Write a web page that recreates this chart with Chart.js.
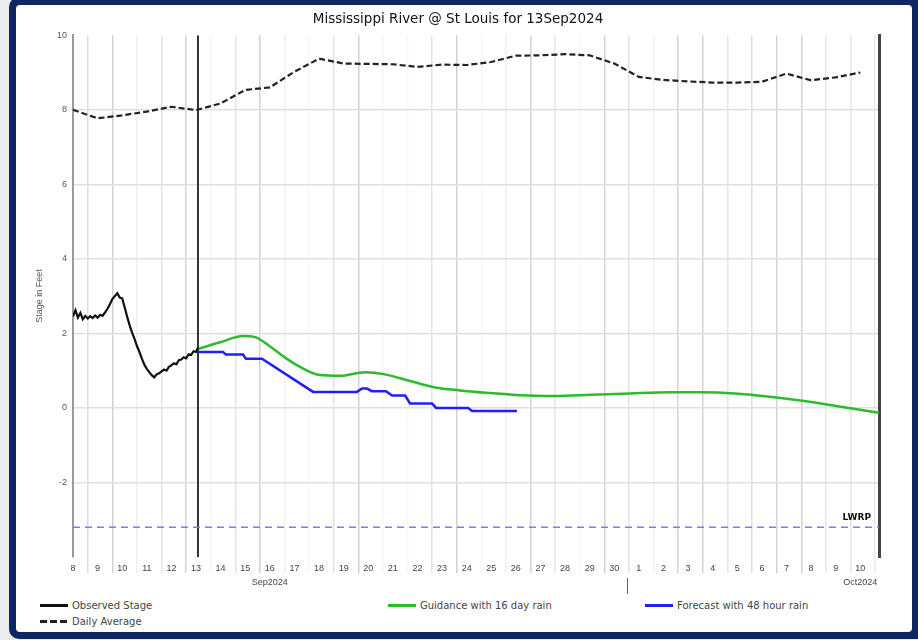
<!DOCTYPE html>
<html>
<head>
<meta charset="utf-8">
<script src="https://cdn.jsdelivr.net/npm/chart.js@4.4.1/dist/chart.umd.min.js"></script>
<style>
  html, body { margin: 0; padding: 0; }
  body { width: 918px; height: 640px; background: #ececec; position: relative; overflow: hidden;
         font-family: "DejaVu Sans", sans-serif; }
  #frame { position: absolute; left: 9px; top: -3px; width: 920px; height: 642px; background: #0e2763; border-radius: 10px; }
  #panel { position: absolute; left: 16px; top: 5px; width: 896px; height: 627px; background: #fff; border-radius: 4px; }
  #c { position: absolute; left: 16px; top: 5px; }
  .lg { position: absolute; display: flex; align-items: center; height: 12px; font-size: 10px; color: #444; }
  .lg .sw { width: 28px; height: 3px; margin-right: 4px; }
</style>
</head>
<body>
<div id="frame"></div>
<div id="panel"></div>
<canvas id="c" width="884" height="590"></canvas>
<div id="legend"></div>
<script>
// x values are days after 8 Sep 2024 00:00
const dayTicks = ['8','9','10','11','12','13','14','15','16','17','18','19','20','21','22','23','24',
                  '25','26','27','28','29','30','1','2','3','4','5','6','7','8','9','10'];
const monthLabels = ['Sep2024', 'Oct2024'];
const monthLabelAt = [8, 32];
const yTicks = [-2, 0, 2, 4, 6, 8, 10];

const obsDays  = [0.00,0.10,0.20,0.30,0.40,0.50,0.60,0.70,0.80,0.90,1.00,1.10,1.20,1.30,1.40,1.50,1.60,1.70,1.80,1.90,
                  2.00,2.10,2.20,2.30,2.40,2.50,2.60,2.70,2.80,2.90,3.00,3.10,3.20,3.30,3.40,3.50,3.60,3.70,3.80,3.90,
                  4.00,4.10,4.20,4.30,4.40,4.50,4.60,4.70,4.80,4.90,5.00,5.08];
const obsStage = [2.45,2.62,2.42,2.55,2.38,2.47,2.40,2.46,2.41,2.48,2.42,2.50,2.47,2.56,2.66,2.78,2.92,3.00,3.08,2.96,
                  2.94,2.70,2.45,2.22,2.02,1.85,1.66,1.50,1.32,1.16,1.05,0.96,0.88,0.82,0.90,0.93,0.98,1.03,1.00,1.10,
                  1.14,1.20,1.17,1.28,1.30,1.36,1.33,1.44,1.42,1.52,1.50,1.62];

const guideDays  = [5.08,5.98,6.91,7.40,8.01,8.62,9.23,10.04,10.85,11.87,12.68,13.70,14.72,15.73,16.95,18.17,
                    19.59,21.02,22.64,24.27,25.49,26.91,28.33,29.55,30.77,31.79,32.76];
const guideStage = [1.58,1.76,1.93,1.90,1.65,1.35,1.10,0.88,0.86,0.96,0.90,0.72,0.55,0.47,0.40,0.34,
                    0.32,0.35,0.39,0.42,0.42,0.39,0.30,0.20,0.08,-0.03,-0.13];

const fcstDays  = [5.08,6.10,6.22,6.91,7.03,7.68,9.76,11.54,11.75,11.95,12.15,12.72,12.97,13.50,13.70,14.59,14.76,16.06,16.22,18.05];
const fcstStage = [1.50,1.50,1.43,1.43,1.32,1.32,0.43,0.43,0.52,0.52,0.45,0.45,0.33,0.33,0.12,0.12,0.00,0.00,-0.08,-0.08];

const avgDays  = [0,1,2,3,4,5,6,7,8,9,10,11,12,13,14,15,16,17,18,19,20,21,22,23,24,25,26,27,28,29,30,31,32];
const avgStage = [8.00,7.77,7.85,7.95,8.08,7.99,8.17,8.53,8.60,9.02,9.37,9.24,9.23,9.22,9.15,9.21,9.20,9.28,
                  9.45,9.46,9.49,9.46,9.24,8.88,8.80,8.76,8.73,8.73,8.75,8.97,8.79,8.87,9.00];

const lwrpStage = -3.2;
const nowDay = 5.08;
const monthSplit = 22.6;
const xMin = 0, xMax = 32.76, yMin = -4, yMax = 10;

// shade of each day gridline (they sit at day + 0.6)
const gridShades = ['#dedede','#d2d2d2','#f0f0f0','#e4e4e4','#d4d4d4','#f6f6f6','#e4e4e4','#d2d2d2','#f1f1f1',
                    '#f7f7f7','#e4e4e4','#d2d2d2','#f7f7f7','#f7f7f7','#e4e4e4','#d2d2d2','#f7f7f7','#f1f1f1',
                    '#d4d4d4','#e6e6e6','#f7f7f7','#d4d4d4','#e4e4e4','#f1f1f1','#d4d4d4','#d4d4d4','#e6e6e6',
                    '#dedede','#d4d4d4','#d4d4d4','#e6e6e6','#e6e6e6','#ececec'];

const pts = (xs, ys) => xs.map((x, i) => ({x: x, y: ys[i]}));
const tickVals = [];
dayTicks.forEach((t, i) => { tickVals.push(i); tickVals.push(i + 0.6); });

const FONT = '"DejaVu Sans", sans-serif';
const TICKFONT = '"Liberation Sans", Arial, sans-serif';
Chart.defaults.font.family = TICKFONT;

const lwrpLabel = {
  id: 'lwrpLabel',
  afterDatasetsDraw(chart) {
    const {ctx, chartArea} = chart;
    const x = chart.scales.x, y = chart.scales.y;
    ctx.save();
    ctx.font = 'bold 9px ' + FONT;
    ctx.fillStyle = '#111';
    ctx.textAlign = 'right';
    ctx.fillText('LWRP', x.getPixelForValue(xMax) - 8, y.getPixelForValue(lwrpStage) - 7);
    const mx = Math.round(x.getPixelForValue(monthSplit)) - 1.5;
    ctx.strokeStyle = '#666';
    ctx.lineWidth = 1;
    ctx.beginPath();
    ctx.moveTo(mx, chartArea.bottom + 21);
    ctx.lineTo(mx, chartArea.bottom + 37);
    ctx.stroke();
    ctx.restore();
  }
};

const chart = new Chart(document.getElementById('c'), {
  type: 'line',
  data: {
    datasets: [
      { label: 'Observed Stage', data: pts(obsDays, obsStage), borderColor: '#111', borderWidth: 2.2,
        pointRadius: 0, tension: 0 },
      { label: 'Guidance with 16 day rain', data: pts(guideDays, guideStage), borderColor: '#2dbb2d', borderWidth: 2.5,
        pointRadius: 0, cubicInterpolationMode: 'monotone' },
      { label: 'Forecast with 48 hour rain', data: pts(fcstDays, fcstStage), borderColor: '#1f1fff', borderWidth: 2.5,
        pointRadius: 0, tension: 0 },
      { label: 'Daily Average', data: pts(avgDays, avgStage), borderColor: '#222', borderWidth: 2.2,
        borderDash: [6, 3], pointRadius: 0, tension: 0 },
      { label: 'LWRP', data: pts([xMin, xMax], [lwrpStage, lwrpStage]), borderColor: '#7a7aff', borderWidth: 1.5,
        borderDash: [7, 5], pointRadius: 0, tension: 0 },
      { label: 'now', data: pts([nowDay, nowDay], [yMin, yMax]), borderColor: '#333', borderWidth: 2,
        pointRadius: 0, tension: 0 }
    ]
  },
  options: {
    responsive: false,
    animation: false,
    devicePixelRatio: 1,
    layout: { padding: { left: 21, right: 21, top: 0, bottom: 0 } },
    plugins: {
      legend: { display: false },
      tooltip: { enabled: false },
      title: { display: true, text: 'Mississippi River @ St Louis for 13Sep2024', color: '#111',
               font: { family: FONT, size: 13.5, weight: 'normal' }, padding: { top: 6, bottom: 8 } }
    },
    scales: {
      x: {
        type: 'linear', min: xMin, max: xMax, position: 'bottom',
        afterBuildTicks: s => { s.ticks = tickVals.map(v => ({ value: v })); },
        afterFit: s => { s.height = 38; },
        border: { display: false },
        grid: {
          color: c => Number.isInteger(c.tick.value) ? 'rgba(0,0,0,0)' : gridShades[Math.round(c.tick.value - 0.6)],
          tickColor: c => Number.isInteger(c.tick.value) ? 'rgba(0,0,0,0)' : gridShades[Math.round(c.tick.value - 0.6)],
          lineWidth: 1.5, tickLength: 16, drawTicks: true
        },
        ticks: {
          autoSkip: false, maxRotation: 0, minRotation: 0, padding: -12,
          color: '#444', font: { size: 9, lineHeight: 1.6 },
          callback: v => {
            if (!Number.isInteger(v)) return '';
            const m = monthLabelAt.indexOf(v);
            return m >= 0 ? [dayTicks[v], monthLabels[m]] : dayTicks[v];
          }
        }
      },
      y: {
        min: yMin, max: yMax, position: 'left',
        afterBuildTicks: s => { s.ticks = [yMin].concat(yTicks).map(v => ({ value: v })); },
        afterFit: s => { s.width = 36; },
        border: { display: true, color: '#999', width: 2 },
        grid: {
          color: c => (c.tick.value === yMin || c.tick.value === yMax) ? 'rgba(0,0,0,0)' : '#e0e0e0',
          lineWidth: 1.5, drawTicks: false
        },
        ticks: { padding: 6, color: '#555', font: { size: 9 },
                 callback: v => yTicks.includes(v) ? String(v) : '' },
        title: { display: true, text: 'Stage in Feet', color: '#555', font: { size: 9 },
                 padding: { top: -3, bottom: 0 } }
      },
      y2: {
        min: yMin, max: yMax, position: 'right',
        afterFit: s => { s.width = 0; },
        border: { display: true, color: '#444', width: 3 },
        grid: { drawOnChartArea: false, drawTicks: false },
        ticks: { display: false }
      }
    }
  },
  plugins: [lwrpLabel]
});

// HTML legend built from the chart's own datasets
const legendPos = [[40, 599], [388, 599], [645, 599], [40, 615]];
const legend = document.getElementById('legend');
chart.data.datasets.slice(0, 4).forEach((ds, i) => {
  const item = document.createElement('div');
  item.className = 'lg';
  item.style.left = legendPos[i][0] + 'px';
  item.style.top = legendPos[i][1] + 'px';
  const sw = document.createElement('span');
  sw.className = 'sw';
  sw.style.background = ds.borderDash
    ? 'repeating-linear-gradient(90deg, ' + ds.borderColor + ' 0 7px, transparent 7px 10px)'
    : ds.borderColor;
  const tx = document.createElement('span');
  tx.textContent = ds.label;
  item.appendChild(sw);
  item.appendChild(tx);
  legend.appendChild(item);
});
</script>
</body>
</html>
